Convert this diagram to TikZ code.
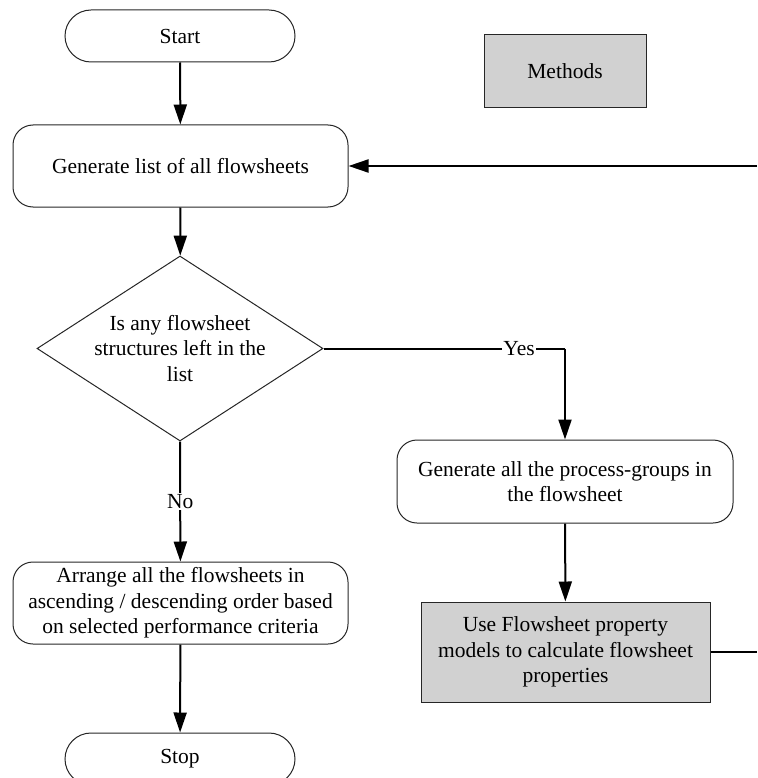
\documentclass[tikz,border=0pt]{standalone}
\usepackage{fontspec}
\setmainfont{Liberation Serif}
\usetikzlibrary{shapes.geometric,arrows.meta}
\begin{document}
\begin{tikzpicture}[x=1pt,y=-1pt,
  font=\fontsize{21.5}{25.5}\selectfont,
  box/.style={draw=black!85,line width=1pt,align=center,inner sep=0pt},
  terminal/.style={box,rounded corners=26pt,minimum width=230pt,minimum height=52pt},
  process/.style={box,rounded corners=20pt},
  method/.style={box,fill=black!18,rounded corners=0pt},
  decision/.style={box,diamond,aspect=1.546,minimum width=286pt,minimum height=185pt},
  flow/.style={line width=2pt,-{Triangle[width=13pt,length=20pt]}},
  plain/.style={line width=2pt}]
\useasboundingbox (0,0) rectangle (757,778);

\node[terminal] (start) at (180,36) {Start};
\node[method,minimum width=162pt,minimum height=73pt] (legend) at (565,71.5) {Methods};
\node[process,minimum width=335pt,minimum height=82pt] (list) at (180.5,166) {Generate list of all flowsheets};
\node[decision] (q) at (180,348.5) {Is any flowsheet\\structures left in the\\list};
\node[process,minimum width=336pt,minimum height=83pt] (groups) at (565,481.5) {Generate all the process-groups in\\the flowsheet};
\node[method,minimum width=289pt,minimum height=100pt] (props) at (565.5,652) {Use Flowsheet property\\models to calculate flowsheet\\properties};
\node[process,minimum width=335pt,minimum height=82pt] (sort) at (180.5,603) {Arrange all the flowsheets in\\ascending / descending order based\\on selected performance criteria};
\node[terminal] (stop) at (180,759) {Stop};

\coordinate (yescorner) at (565,348.5);
\coordinate (loopin) at (757,166);
\coordinate (loopout) at (757,652);

\draw[flow] (start) -- (list);
\draw[flow] (list) -- (q);
\draw[plain] (q.east) -- node[pos=0.81,fill=white,inner sep=1pt] {Yes} (yescorner);
\draw[flow] (yescorner) -- (groups);
\draw[flow] (groups) -- (props);
\draw[plain] (props.east) -- (loopout);
\draw[flow] (loopin) -- (list.east);
\draw[flow] (q.south) -- node[midway,fill=white,inner sep=1pt] {No} (sort);
\draw[flow] (sort) -- (stop);
\end{tikzpicture}
\end{document}
